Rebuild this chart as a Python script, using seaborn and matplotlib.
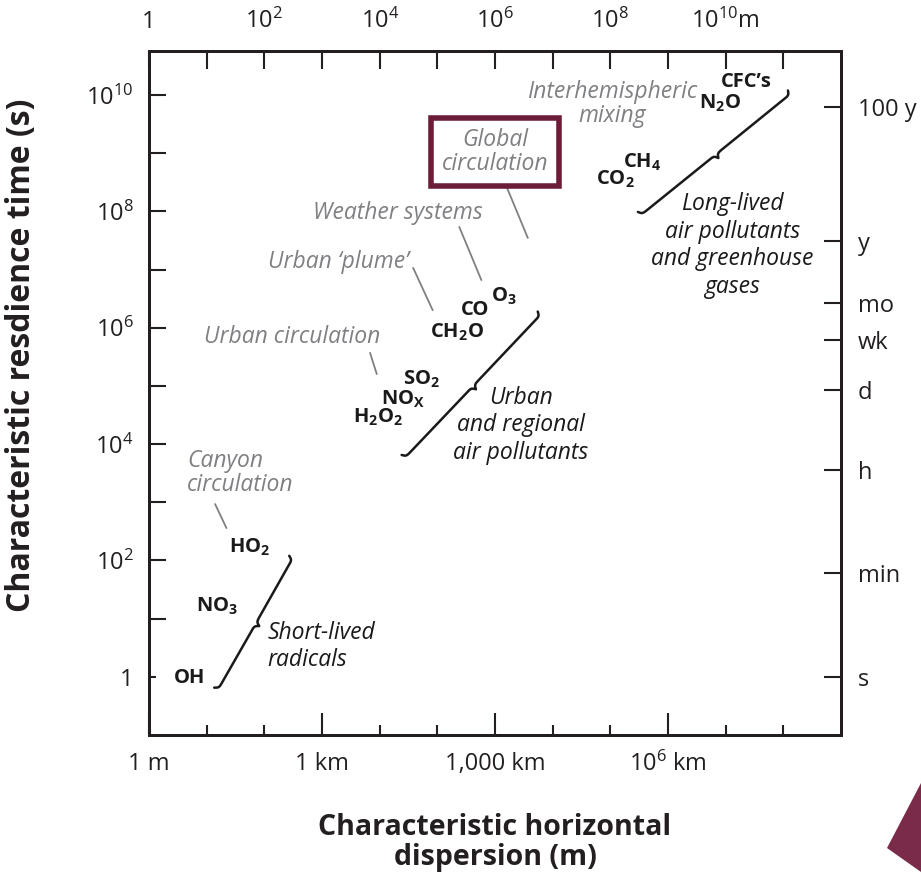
import numpy as np
import pandas as pd
import matplotlib
matplotlib.use('Agg')
import matplotlib.pyplot as plt
from matplotlib.ticker import FixedLocator, FixedFormatter, NullLocator, NullFormatter
from matplotlib.patches import Polygon
import seaborn as sns

# --- data (dispersion in m, residence time in s) ---
species = ['OH', r'NO$_\mathbf{3}$', r'HO$_\mathbf{2}$',
           r'H$_\mathbf{2}$O$_\mathbf{2}$', r'NO$_\mathbf{X}$', r'SO$_\mathbf{2}$',
           r'CH$_\mathbf{2}$O', 'CO', r'O$_\mathbf{3}$',
           r'CO$_\mathbf{2}$', r'CH$_\mathbf{4}$', r'N$_\mathbf{2}$O', 'CFC’s']
species_m = [5.1, 15, 56, 9.3e3, 2.5e4, 5.4e4, 2.2e5, 4.5e5, 1.4e6,
             1.2e8, 3.5e8, 7.9e9, 2.3e10]
species_s = [0.95, 16, 166, 2.9e4, 5.9e4, 1.3e5, 8.5e5, 2.0e6, 3.4e6,
             3.5e8, 7.1e8, 7.2e9, 1.7e10]

# scale labels (grey) with leader lines
scales = ['Canyon\ncirculation', 'Urban circulation', 'Urban ‘plume’',
          'Weather systems', 'Global\ncirculation', 'Interhemispheric\nmixing']
scales_m = [4.6, 3.0e2, 1.9e3, 2.1e4, 1.0e6, 1.07e8]
scales_s = [3.2e3, 6.9e5, 1.35e7, 9.3e7, 1.05e9, 7.1e9]
leader_from_m = [14, 6.8e3, 3.8e4, 2.4e5, 1.6e6, None]
leader_from_s = [930, 3.7e5, 1.07e7, 5.4e7, 2.6e8, None]
leader_to_m = [22, 8.9e3, 8.3e4, 5.8e5, 3.7e6, None]
leader_to_s = [360, 1.6e5, 2.0e6, 6.6e6, 3.5e7, None]

# pollutant classes spanned by braces
classes = ['Short-lived\nradicals', 'Urban\nand regional\nair pollutants',
           'Long-lived\nair pollutants\nand greenhouse\ngases']
classes_m = [112, 2.8e6, 1.3e10]
classes_s = [3.3, 2.1e4, 2.6e7]
brace_lo_m = [13.5, 2.4e4, 3.0e8]
brace_lo_s = [0.65, 6.5e3, 9.8e7]
brace_hi_m = [270, 5.5e6, 1.2e11]
brace_hi_s = [120, 1.9e6, 1.2e10]

# axis ticks
top_ticks = [1e2, 1e4, 1e6, 1e8, 1e10]
top_labels = [r'$10^{2}$', r'$10^{4}$', r'$10^{6}$', r'$10^{8}$', r'$10^{10}$m']
bottom_ticks = [1, 1e3, 1e6, 1e9]
bottom_labels = ['1 m', '1 km', '1,000 km', r'$10^{6}$ km']
left_labels = ['1', r'$10^{2}$', r'$10^{4}$', r'$10^{6}$', r'$10^{8}$', r'$10^{10}$']
right_ticks = [1, 60, 3600, 86400, 604800, 2.63e6, 3.16e7, 6.3e9]
right_labels = ['s', 'min', 'h', 'd', 'wk', 'mo', 'y', '100 y']

sns.set_theme(style='ticks')
plt.rcParams['font.family'] = ['Open Sans', 'DejaVu Sans']
plt.rcParams['mathtext.fontset'] = 'custom'
plt.rcParams['mathtext.rm'] = 'Open Sans'
plt.rcParams['mathtext.it'] = 'Open Sans:italic'
plt.rcParams['mathtext.bf'] = 'Open Sans:bold'

GREY = '#7f8083'
MAROON = '#6c1c38'
INK = '#231f20'


def brace(x0, y0, x1, y1, w=0.15, beta=50):
    # curly brace in log space, tip pointing to the lower right
    lx0, ly0, lx1, ly1 = np.log10([x0, y0, x1, y1])
    dx, dy = lx1 - lx0, ly1 - ly0
    L = np.hypot(dx, dy)
    ux, uy = dx / L, dy / L
    nx, ny = uy, -ux
    s = np.linspace(0, L / 2, 300)
    half = 1 / (1 + np.exp(-beta * (s - s[0]))) + 1 / (1 + np.exp(-beta * (s - s[-1])))
    off = np.concatenate([half, half[::-1]]) - 0.5
    ss = np.concatenate([s, L - s[::-1]])
    return 10 ** (lx0 + ux * ss + nx * w * off), 10 ** (ly0 + uy * ss + ny * w * off)


fig = plt.figure(figsize=(9.21, 8.77), dpi=100)
ax = fig.add_axes([0.1618, 0.162, 0.7514, 0.78])
ax.set_xscale('log')
ax.set_yscale('log')
ax.set_xlim(1, 1e12)
ax.set_ylim(10 ** -1, 10 ** 10.76)

rows = []
for i in range(len(brace_lo_m)):
    bx, by = brace(brace_lo_m[i], brace_lo_s[i], brace_hi_m[i], brace_hi_s[i])
    rows.append(pd.DataFrame({'x': bx, 'y': by, 'grp': i}))
braces = pd.concat(rows, ignore_index=True)
sns.lineplot(data=braces, x='x', y='y', units='grp', estimator=None, sort=False,
             color='#1a1a1a', lw=1.8, ax=ax, legend=False)

for name, xm, ys in zip(species, species_m, species_s):
    ax.text(xm, ys, name, ha='center', va='center', fontsize=14.5,
            fontweight='bold', color='#1a1a1a')

for i, name in enumerate(scales):
    ha = 'left' if i == 0 else 'center'
    kw = {}
    if name.startswith('Global'):
        kw['bbox'] = dict(boxstyle='square,pad=0.45', fc='white', ec=MAROON, lw=4)
    ax.text(scales_m[i], scales_s[i], name, ha=ha, va='center', fontsize=16.5,
            style='italic', color=GREY, linespacing=1.0, **kw)
    if leader_from_m[i] is not None:
        ax.plot([leader_from_m[i], leader_to_m[i]], [leader_from_s[i], leader_to_s[i]],
                color=GREY, lw=1.3)

for i, name in enumerate(classes):
    ha = 'left' if i == 0 else 'center'
    ax.text(classes_m[i], classes_s[i], name, ha=ha, va='center', fontsize=16.5,
            style='italic', color='#1a1a1a', linespacing=1.2)

# bottom axis
ax.xaxis.set_major_locator(FixedLocator(bottom_ticks))
ax.xaxis.set_major_formatter(FixedFormatter(bottom_labels))
ax.xaxis.set_minor_locator(FixedLocator([10 ** k for k in range(1, 12) if k % 3]))
ax.xaxis.set_minor_formatter(NullFormatter())
ax.tick_params(axis='x', which='major', direction='in', length=16, width=1.5,
               labelsize=17, pad=12, colors=INK)
ax.tick_params(axis='x', which='minor', direction='in', length=7.5, width=1.5,
               colors=INK)

# left axis
ax.yaxis.set_major_locator(FixedLocator([10.0 ** k for k in range(0, 11)]))
ax.yaxis.set_major_formatter(FixedFormatter(
    [left_labels[k // 2] if k % 2 == 0 else '' for k in range(0, 11)]))
ax.yaxis.set_minor_locator(NullLocator())
ax.tick_params(axis='y', which='major', direction='in', length=12.5, width=1.5,
               labelsize=17, pad=11, colors=INK)
ax.yaxis.get_major_ticks()[0].tick1line.set_markersize(5)

# top axis
axt = ax.twiny()
axt.set_xscale('log')
axt.set_xlim(ax.get_xlim())
axt.xaxis.set_major_locator(FixedLocator([1] + top_ticks))
axt.xaxis.set_major_formatter(FixedFormatter(['1'] + top_labels))
axt.xaxis.set_minor_locator(FixedLocator([10 ** k for k in range(1, 12, 2)]))
axt.xaxis.set_minor_formatter(NullFormatter())
axt.tick_params(axis='x', which='both', direction='in', length=13, width=1.5,
                labelsize=17, pad=12, colors=INK)

# right axis
axr = ax.twinx()
axr.set_yscale('log')
axr.set_ylim(ax.get_ylim())
axr.yaxis.set_major_locator(FixedLocator(right_ticks))
axr.yaxis.set_major_formatter(FixedFormatter(right_labels))
axr.yaxis.set_minor_locator(NullLocator())
axr.yaxis.set_minor_formatter(NullFormatter())
axr.tick_params(axis='y', which='major', direction='in', length=12.5, width=1.5,
                labelsize=17, pad=12, colors=INK)

for a in (ax, axt, axr):
    for sp in a.spines.values():
        sp.set_linewidth(2.0)
        sp.set_color(INK)

ax.set_xlabel('Characteristic horizontal\ndispersion (m)', fontsize=20.5,
              fontweight='bold', color=INK, labelpad=26, linespacing=1.05)
ax.set_ylabel('Characteristic resdience time (s)', fontsize=23,
              fontweight='bold', color=INK)
ax.yaxis.set_label_coords(-0.16, 0.555)

# slide decoration in the lower right corner
fig.patches.append(Polygon([[921, 94], [887, 29], [921, 5]], closed=True,
                           transform=None, fc='#7a2b4a', ec='none'))

fig.savefig('out.png', dpi=100)
